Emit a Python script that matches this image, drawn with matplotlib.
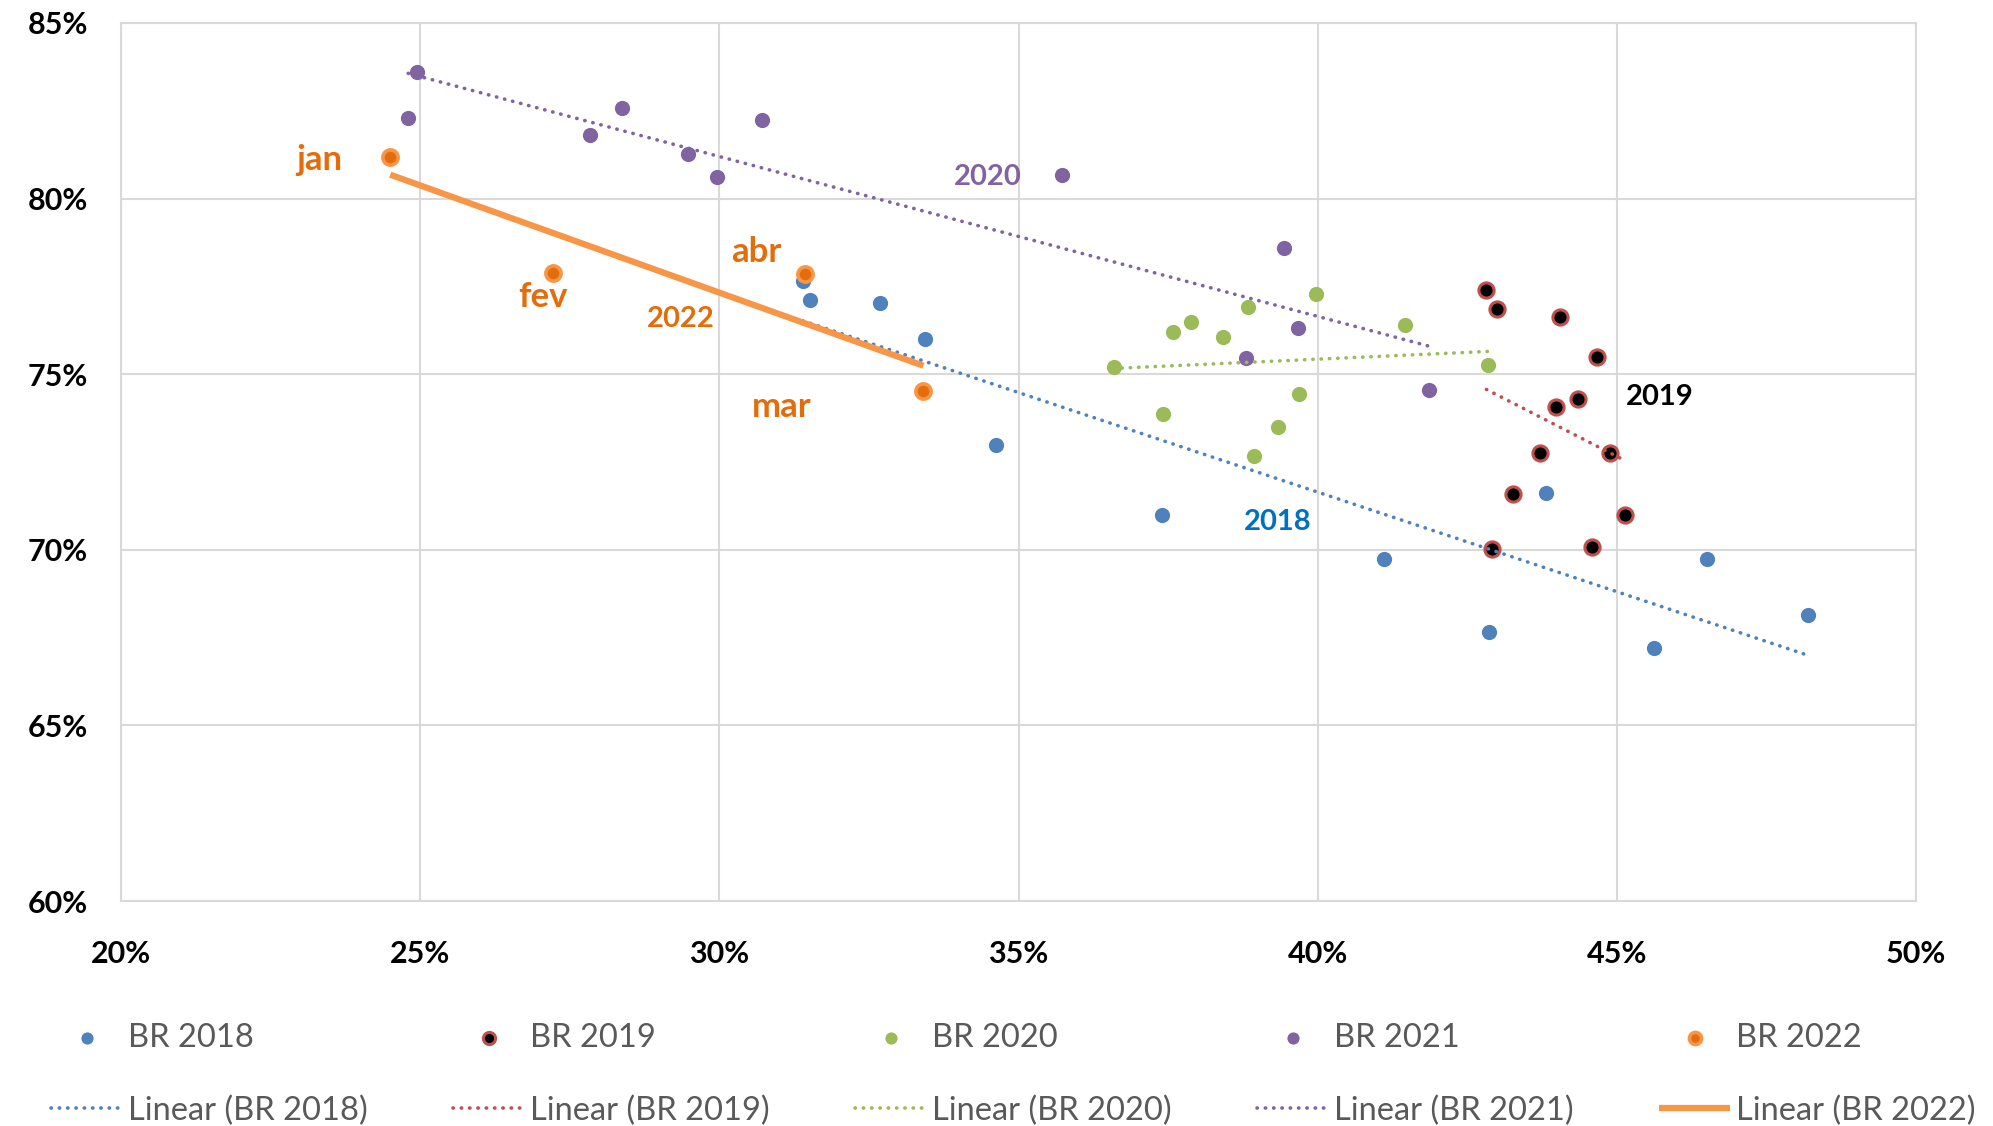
import numpy as np
import matplotlib.pyplot as plt

plt.rcParams['font.family'] = ['Lato', 'DejaVu Sans']

# x / y values in percent
br2018_x = [31.39, 31.51, 32.68, 33.43, 34.62, 37.40, 41.10, 42.86, 43.82, 45.62, 46.51, 48.19]
br2018_y = [77.66, 77.11, 77.04, 75.99, 72.99, 71.00, 69.73, 67.67, 71.61, 67.20, 69.73, 68.14]

br2019_x = [42.82, 42.99, 44.05, 44.67, 43.99, 44.35, 43.71, 44.88, 43.26, 45.13, 42.92, 44.58]
br2019_y = [77.40, 76.86, 76.64, 75.48, 74.07, 74.29, 72.77, 72.77, 71.58, 71.00, 70.02, 70.09]

br2020_x = [36.59, 37.59, 37.89, 38.42, 38.84, 39.97, 41.46, 42.84, 37.42, 39.69, 39.33, 38.93]
br2020_y = [75.20, 76.21, 76.50, 76.06, 76.90, 77.29, 76.39, 75.27, 73.86, 74.44, 73.50, 72.66]

br2021_x = [24.95, 24.80, 27.84, 28.37, 29.48, 29.96, 30.71, 35.72, 39.44, 39.67, 38.80, 41.86]
br2021_y = [83.59, 82.29, 81.82, 82.58, 81.27, 80.62, 82.25, 80.66, 78.60, 76.32, 75.45, 74.54]

months_2022 = ["jan", "fev", "mar", "abr"]
br2022_x = [24.50, 27.22, 33.41, 31.43]
br2022_y = [81.17, 77.87, 74.51, 77.84]

x_ticks = [20, 25, 30, 35, 40, 45, 50]
y_ticks = [60, 65, 70, 75, 80, 85]

blue = "#4f81bd"
red = "#c0504d"
green = "#9bbb59"
purple = "#8064a2"
orange = "#f79646"
orange_dark = "#e46c0a"

fig = plt.figure(figsize=(19.93, 11.26), dpi=100)
ax = fig.add_axes([0.0607, 0.1998, 0.9007, 0.7798])

ms = 120
s18 = ax.scatter(br2018_x, br2018_y, s=ms, color=blue, zorder=2, linewidths=0)
s19 = ax.scatter(br2019_x, br2019_y, s=ms, facecolor="black", edgecolor=red, linewidths=2.2, zorder=2)
s20 = ax.scatter(br2020_x, br2020_y, s=ms, color=green, zorder=2, linewidths=0)
s21 = ax.scatter(br2021_x, br2021_y, s=ms, color=purple, zorder=2, linewidths=0)
s22 = ax.scatter(br2022_x, br2022_y, s=ms, facecolor=orange_dark, edgecolor=orange, linewidths=2.6, zorder=2)


def trend(xs, ys, color, **kw):
    k, b = np.polyfit(xs, ys, 1)
    xx = np.array([min(xs), max(xs)])
    return ax.plot(xx, k * xx + b, color=color, **kw)[0]


dot = dict(linestyle=(0, (0.1, 2.2)), lw=2.6, dash_capstyle="round", zorder=3)
t18 = trend(br2018_x, br2018_y, blue, **dot)
t19 = trend(br2019_x, br2019_y, red, **dot)
t20 = trend(br2020_x, br2020_y, green, **dot)
t21 = trend(br2021_x, br2021_y, purple, **dot)
t22 = trend(br2022_x, br2022_y, orange, lw=4.5, solid_capstyle="butt", zorder=4)

# annotations
lab = dict(fontweight="bold", ha="center", va="center", zorder=5)
for m, x, y in zip(months_2022, [23.31, 27.05, 31.05, 30.62], [81.09, 77.19, 74.07, 78.49]):
    ax.text(x, y, m, color=orange_dark, fontsize=25, **lab)
ax.text(29.35, 76.57, "2022", color=orange_dark, fontsize=21, **lab)
ax.text(34.49, 80.62, "2020", color=purple, fontsize=21, **lab)
ax.text(39.33, 70.78, "2018", color="#0070c0", fontsize=21, **lab)
ax.text(45.71, 74.36, "2019", color="black", fontsize=21, **lab)

ax.set_xlim(20, 50)
ax.set_ylim(60, 85)
ax.set_xticks(x_ticks)
ax.set_yticks(y_ticks)
ax.set_xticklabels([f"{v}%" for v in x_ticks])
ax.set_yticklabels([f"{v}%" for v in y_ticks])
ax.tick_params(length=0, labelsize=22)
ax.tick_params(axis="x", pad=28)
ax.tick_params(axis="y", pad=24)
for t in ax.get_xticklabels() + ax.get_yticklabels():
    t.set_fontweight("bold")
ax.grid(True, color="#d9d9d9", lw=1.5, zorder=0)
ax.set_axisbelow(True)
for sp in ax.spines.values():
    sp.set_color("#d9d9d9")
    sp.set_linewidth(1.5)

# legend: five columns, marker row above trend row
cols = [(s18, t18, "BR 2018"), (s19, t19, "BR 2019"), (s20, t20, "BR 2020"),
        (s21, t21, "BR 2021"), (s22, t22, "BR 2022")]
col_x = [0.0256, 0.2273, 0.4290, 0.6307, 0.8324]
for (s, t, name), cx in zip(cols, col_x):
    fig.legend([s, t], [name, f"Linear ({name})"], loc="center left",
               bbox_to_anchor=(cx, 0.0458), frameon=False, fontsize=23.5,
               labelcolor="#595959", handlelength=2.18, handletextpad=0.18,
               labelspacing=1.3, borderpad=0, borderaxespad=0, markerscale=0.8)

fig.savefig("out.png", dpi=100)
